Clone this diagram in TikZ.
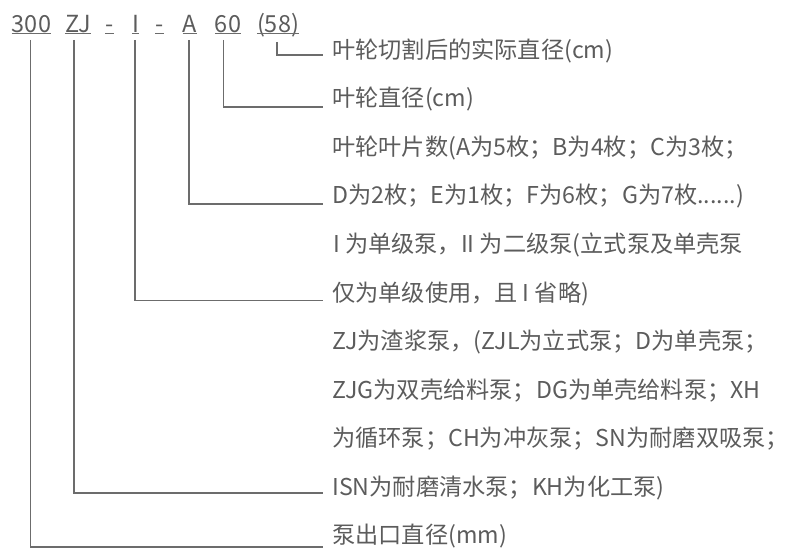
\documentclass[tikz,border=0pt]{standalone}
\usepackage{fontspec}
\setmainfont{Noto Sans CJK SC}
\definecolor{txt}{HTML}{5C5C5C}
\definecolor{ln}{HTML}{6C6C6C}
\begin{document}
\begin{tikzpicture}[x=1pt,y=-1pt,
  code/.style={font=\fontsize{23.5}{28}\selectfont, text=txt, inner sep=0pt, anchor=base},
  desc/.style={font=\fontsize{23.2}{28}\selectfont, text=txt, inner sep=0pt, anchor=base west},
  lead/.style={draw=ln, line width=1.2pt},
  uline/.style={draw=ln, line width=1.2pt}]
\useasboundingbox (0,0) rectangle (790,559);
% code labels
\node[code] (k300) at (31.5,32.5) {300};
\node[code] (kZJ)  at (78,32.5) {ZJ};
\node[code] (kd1)  at (109.5,32.5) {-};
\node[code] (kI)   at (135.5,32.5) {I};
\node[code] (kd2)  at (159.5,32.5) {-};
\node[code] (kA)   at (190,32.5) {A};
\node[code] (k60)  at (228,32.5) {60};
\node[code] (k58)  at (278,32.5) {(58)};
\foreach \n in {k300,kZJ,kd1,kI,kd2,kA,k60,k58}
  \draw[uline] ([yshift=-1pt]\n.base west) -- ([yshift=-1pt]\n.base east);
% descriptions
\node[desc] (t1)  at (332,58.5)  {叶轮切割后的实际直径(cm)};
\node[desc] (t2)  at (332,107)   {叶轮直径(cm)};
\node[desc] (t3)  at (332,155.5) {叶轮叶片数(A为5枚；B为4枚；C为3枚；};
\node[desc] (t4)  at (332,204)   {D为2枚；E为1枚；F为6枚；G为7枚......)};
\node[desc] (t5)  at (333,252.5) {I 为单级泵，II 为二级泵(立式泵及单壳泵};
\node[desc] (t6)  at (332,301)   {仅为单级使用，且 I 省略)};
\node[desc] (t7)  at (332,349.5) {ZJ为渣浆泵，(ZJL为立式泵；D为单壳泵；};
\node[desc] (t8)  at (332,398)   {ZJG为双壳给料泵；DG为单壳给料泵；XH};
\node[desc] (t9)  at (332,446.5) {为循环泵；CH为冲灰泵；SN为耐磨双吸泵；};
\node[desc] (t10) at (332,495)   {ISN为耐磨清水泵；KH为化工泵)};
\node[desc] (t11) at (332,543.5) {泵出口直径(mm)};
% leader starts
\coordinate (v300) at (30.5,40);
\coordinate (vZJ)  at (74,40);
\coordinate (vI)   at (135,40);
\coordinate (vA)   at (189,40);
\coordinate (v60)  at (223.5,40);
\coordinate (v58)  at (277,42);
% leaders
\draw[lead] (v58)  |- ([xshift=-9pt,yshift=3.5pt]t1.base west);
\draw[lead] (v60)  |- ([xshift=-9pt]t2.base west);
\draw[lead] (vA)   |- ([xshift=-9pt]t4.base west);
\draw[lead] (vI)   |- ([xshift=-9pt,yshift=0.3pt]t6.base west);
\draw[lead] (vZJ)  |- ([xshift=-9pt,yshift=2pt]t10.base west);
\draw[lead] (v300) |- ([xshift=-9pt,yshift=-3.5pt]t11.base west);
\end{tikzpicture}
\end{document}
